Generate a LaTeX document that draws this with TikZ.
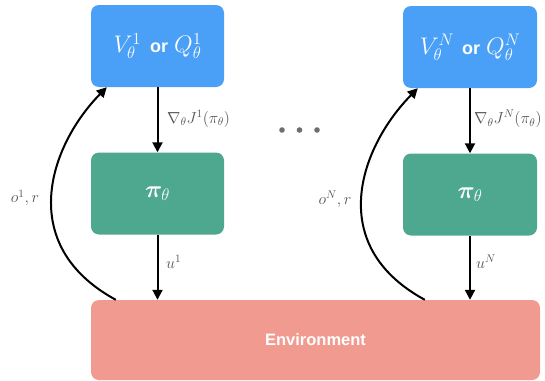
\RequirePackage{fix-cm}
\documentclass[tikz,border=0pt]{standalone}
\usepackage{bm}
\usepackage{fontspec}
\setsansfont{Liberation Sans}
\usetikzlibrary{arrows.meta}
\definecolor{cblue}{RGB}{74,160,246}
\definecolor{cgreen}{RGB}{77,168,143}
\definecolor{csalmon}{RGB}{241,154,144}
\definecolor{clabel}{RGB}{85,85,85}
\newcommand{\orword}{\textsf{\bfseries\fontsize{18}{21}\selectfont or}}
\tikzset{
  box/.style={rounded corners=8pt, inner sep=0pt, text=white, minimum width=133pt, minimum height=82pt, font=\fontsize{24}{28}\selectfont},
  arr/.style={line width=2pt, -{Triangle[length=10pt,width=10pt]}},
  lbl/.style={text=clabel, inner sep=0pt, font=\fontsize{16}{19}\selectfont},
  dot/.style={circle, fill=clabel!85, inner sep=0pt, minimum size=5.6pt}
}
\begin{document}
\begin{tikzpicture}[x=1pt,y=-1pt]
\useasboundingbox (0,0) rectangle (545,380);
% boxes
\node[box, fill=cblue] (b1) at (157.5,46) {$V_\theta^1$\hspace{9pt}\orword\hspace{6pt}$Q_\theta^1$};
\node[box, fill=cblue, minimum width=134pt] (b2) at (470,47) {$V_\theta^N$\hspace{8pt}\orword\hspace{6pt}$Q_\theta^N$};
\node[box, fill=cgreen] (g1) at (157.5,193.5) {$\bm{\pi}_{\theta}$};
\node[box, fill=cgreen, minimum width=134pt] (g2) at (470,194.5) {$\bm{\pi}_{\theta}$};
\node[box, fill=csalmon, minimum width=449pt, minimum height=80pt, font=\sffamily\bfseries\fontsize{16.5}{19}\selectfont] (env) at (315.5,340) {Environment};
% vertical arrows
\draw[arr] (b1.south) -- (g1.north);
\draw[arr] (b2.south) -- (g2.north);
\draw[arr] (g1.south) -- (g1.south |- env.north);
\draw[arr] (g2.south) -- (g2.south |- env.north);
% feedback curves
\coordinate (s1) at ([xshift=25pt]env.north west);
\coordinate (e1) at ([xshift=16pt]b1.south west);
\coordinate (s2) at ([xshift=334pt]env.north west);
\coordinate (e2) at ([xshift=15pt]b2.south west);
\draw[arr] (s1) .. controls +(-101,-55) and +(-57,58) .. (e1);
\draw[arr] (s2) .. controls +(-101,-55) and +(-57,58) .. (e2);
% labels
\node[lbl, anchor=west] (l1) at (167,119) {$\nabla_\theta J^1(\pi_\theta)$};
\node[lbl, anchor=west] (l2) at (474,119) {$\nabla_\theta J^N(\pi_\theta)$};
\node[lbl] (o1) at (25,198) {$o^1, r$};
\node[lbl] (o2) at (335,199) {$o^N, r$};
\node[lbl, anchor=west] (u1) at (166,262) {$u^1$};
\node[lbl, anchor=west] (u2) at (476,262) {$u^N$};
% dots
\node[dot] (d1) at (282,130) {};
\node[dot] (d2) at (299.5,130) {};
\node[dot] (d3) at (317,130) {};
\end{tikzpicture}
\end{document}
